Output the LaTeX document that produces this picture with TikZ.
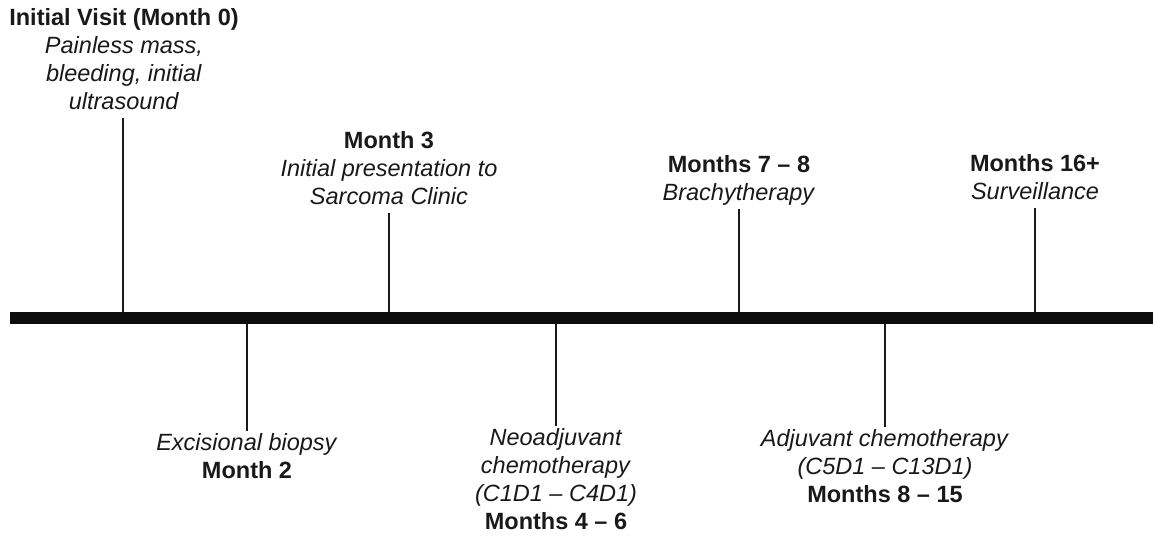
\documentclass[tikz,border=0pt]{standalone}
\usepackage{fontspec}
\setmainfont{Liberation Sans}
\begin{document}
\begin{tikzpicture}[x=1pt,y=1pt,
  lbl/.style={inner sep=0pt,align=center,text=black!90,
    font=\fontsize{23.5}{28}\selectfont},
  tick/.style={line width=2pt,black!90},
  barline/.style={line width=12pt,black!95}]
\useasboundingbox (0,0) rectangle (1153,-536);
% timeline bar
\coordinate (barL) at (10,-318);
\coordinate (barR) at (1153,-318);
\draw[barline] (barL) -- (barR);
% top labels
\node[lbl,anchor=south] (m0) at (124,-118) {\strut\textbf{Initial Visit (Month 0)}\\\textit{Painless mass,}\\\textit{bleeding, initial}\\\textit{ultrasound}\strut};
\node[lbl,anchor=south] (m3) at (389,-213) {\strut\textbf{Month 3}\\\textit{Initial presentation to}\\\textit{Sarcoma Clinic}\strut};
\node[lbl,anchor=south] (m78) at (739,-209) {\strut\textbf{Months 7 – 8}\\\textit{Brachytherapy}\strut};
\node[lbl,anchor=south] (m16) at (1035,-208) {\strut\textbf{Months 16+}\\\textit{Surveillance}\strut};
% bottom labels
\node[lbl,anchor=north] (m2) at (247,-431) {\strut\textit{Excisional biopsy}\\\textbf{Month 2}\strut};
\node[lbl,anchor=north] (m46) at (556,-426) {\strut\textit{Neoadjuvant}\\\textit{chemotherapy}\\\textit{(C1D1 – C4D1)}\\\textbf{Months 4 – 6}\strut};
\node[lbl,anchor=north] (m815) at (885,-427) {\strut\textit{Adjuvant chemotherapy}\\\textit{(C5D1 – C13D1)}\\\textbf{Months 8 – 15}\strut};
% ticks
\draw[tick] ([xshift=-1pt]m0.south) -- ([xshift=-1pt,yshift=6pt]m0.south |- barL);
\draw[tick] (m3.south) -- ([yshift=6pt]m3.south |- barL);
\draw[tick] (m78.south) -- ([yshift=6pt]m78.south |- barL);
\draw[tick] (m16.south) -- ([yshift=6pt]m16.south |- barL);
\draw[tick] (m2.north) -- ([yshift=-6pt]m2.north |- barL);
\draw[tick] (m46.north) -- ([yshift=-6pt]m46.north |- barL);
\draw[tick] (m815.north) -- ([yshift=-6pt]m815.north |- barL);
\end{tikzpicture}
\end{document}
